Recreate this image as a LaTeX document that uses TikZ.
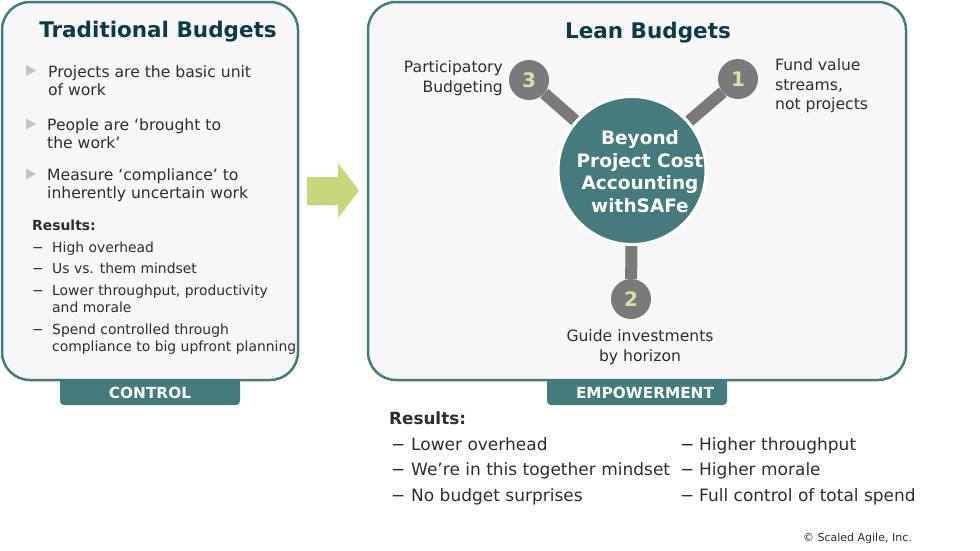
\documentclass[tikz,border=0pt]{standalone}
\usepackage{fontspec}
\setmainfont{DejaVu Sans}
\pgfdeclarelayer{back}\pgfdeclarelayer{mid}
\pgfsetlayers{back,mid,main}
\definecolor{teal1}{HTML}{457B7C}
\definecolor{titlec}{HTML}{0D3A4A}
\definecolor{txt}{HTML}{2E2E2E}
\definecolor{panelfill}{HTML}{F7F7F7}
\definecolor{knob}{HTML}{7A7A7A}
\definecolor{numc}{HTML}{D7E2A0}
\definecolor{arrowc}{HTML}{C8D67E}
\definecolor{tric}{HTML}{C4C4C4}
\begin{document}
\begin{tikzpicture}[x=1pt,y=-1pt,
  panel/.style={draw=teal1, line width=2.5pt, fill=panelfill, rounded corners=28pt, inner sep=0},
  tabbox/.style={fill=teal1, rounded corners=4pt, inner sep=0, minimum width=180pt, minimum height=36pt},
  tabtext/.style={text=white, font=\fontsize{15.3}{18}\selectfont\bfseries, inner sep=0},
  titletext/.style={text=titlec, font=\fontsize{21.5}{26}\selectfont\bfseries, inner sep=0, anchor=base},
  bodytext/.style={text=txt, font=\fontsize{15.6}{18}\selectfont, inner sep=0, align=left, anchor=north west},
  labeltext/.style={text=txt, font=\fontsize{15.6}{20}\selectfont, inner sep=0},
  smallres/.style={text=txt, font=\fontsize{13.9}{17.5}\selectfont, inner sep=0, anchor=north west},
  bigres/.style={text=txt, font=\fontsize{17}{25.5}\selectfont, inner sep=0, anchor=north west},
  hubnode/.style={circle, fill=teal1, draw=white, line width=3pt, minimum size=148pt, inner sep=0},
  knobnode/.style={circle, fill=knob, minimum size=40pt, inner sep=0, text=numc, font=\fontsize{20}{24}\selectfont\bfseries},
  conn/.style={draw=knob, line width=12pt},
  tri/.style={fill=tric}
]
\useasboundingbox (0,0) rectangle (980,550);

\begin{pgfonlayer}{back}
  \fill[white] (0,0) rectangle (980,550);
  \node[tabbox] (ctrltab) at (150,387) {};
  \node[tabbox] (emptab) at (637,387) {};
  \node[panel, minimum width=296pt, minimum height=378pt] (leftpanel) at (150,191) {};
  \node[panel, minimum width=538pt, minimum height=378pt] (rightpanel) at (637,191) {};
\end{pgfonlayer}

\node[tabtext] (ctrl) at (150,393) {CONTROL};
\node[tabtext] (emp) at (645,393) {EMPOWERMENT};

% titles
\node[titletext] (ttrad) at (158,37.5) {Traditional Budgets};
\node[titletext] (tlean) at (648,38) {Lean Budgets};

% arrow
\fill[arrowc] (307,177) -- (338,177) -- (338,163) -- (359,190.5) -- (338,218) -- (338,205) -- (307,205) -- cycle;

% left bullets
\fill[tri] (26,65) -- (36,70.5) -- (26,76) -- cycle;
\fill[tri] (26,118.5) -- (36,124) -- (26,129.5) -- cycle;
\fill[tri] (26,168.5) -- (36,174) -- (26,179.5) -- cycle;
\node[bodytext] (b1) at (48,65.1) {Projects are the basic unit\\of work};
\node[bodytext] (b2) at (47,118.1) {People are ‘brought to\\the work’};
\node[bodytext] (b3) at (47,168.1) {Measure ‘compliance’ to\\inherently uncertain work};

% left results
\node[text=txt, font=\fontsize{13.9}{17}\selectfont\bfseries, inner sep=0, anchor=base west] (lresh) at (32,230) {Results:};
\node[smallres] (lres) at (32,239.75) {\begin{tabular}{@{}p{20pt}@{}l@{}}
−& High overhead\\[4pt]
−& Us vs. them mindset\\[4pt]
−& Lower throughput, productivity\\
 & and morale\\[4pt]
−& Spend controlled through\\
 & compliance to big upfront planning
\end{tabular}};

% hub and knobs
\node[hubnode] (hub) at (632,170.5) {};
\node[knobnode] (k3) at (529,80) {3};
\node[knobnode] (k1) at (738,79) {1};
\node[knobnode] (k2) at (631,299) {2};
\begin{pgfonlayer}{mid}
  \draw[conn] (k3) -- (hub);
  \draw[conn] (k1) -- (hub);
  \draw[conn] (k2) -- (hub);
\end{pgfonlayer}
\node[text=white, font=\fontsize{18.5}{22.5}\selectfont\bfseries, inner sep=0, align=center, anchor=north] (hubtext) at (640,130.6) {Beyond\\Project Cost\\Accounting\\withSAFe};

\node[labeltext, align=right, anchor=north east] (l3) at (503,60.7) {Participatory\\Budgeting};
\node[labeltext, font=\fontsize{15.6}{19.5}\selectfont, align=left, anchor=north west] (l1) at (775,58.7) {Fund value\\streams,\\not projects};
\node[labeltext, align=center, anchor=north] (l2) at (640,329.7) {Guide investments\\by horizon};

% bottom results
\node[text=txt, font=\fontsize{16.8}{20}\selectfont\bfseries, inner sep=0, anchor=base west] (bresh) at (389,424) {Results:};
\node[bigres] (bres) at (391,432.15) {\begin{tabular}{@{}p{20pt}@{}p{269pt}@{}p{19pt}@{}l@{}}
−& Lower overhead & −& Higher throughput\\
−& We’re in this together mindset & −& Higher morale\\
−& No budget surprises & −& Full control of total spend
\end{tabular}};

\node[text=txt, font=\fontsize{11}{13}\selectfont, inner sep=0, anchor=base east] (copy) at (912,541) {© Scaled Agile, Inc.};
\end{tikzpicture}
\end{document}
